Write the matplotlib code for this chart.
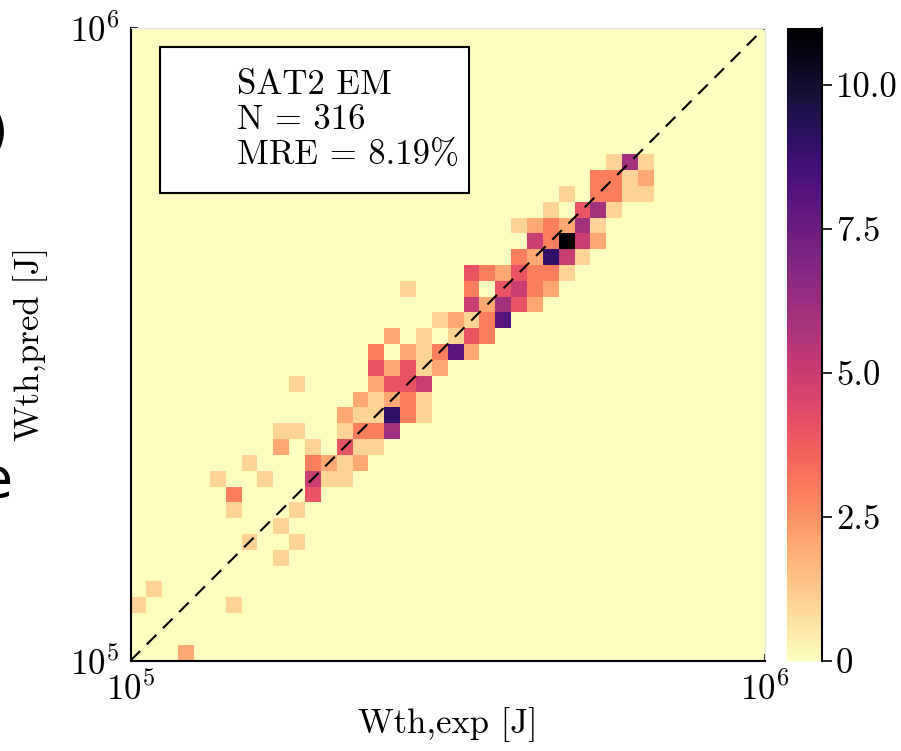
import numpy as np
import matplotlib
matplotlib.use("Agg")
import matplotlib.pyplot as plt
from matplotlib.ticker import NullLocator
from matplotlib.patches import Rectangle

plt.rcParams.update({
    "font.family": "serif",
    "font.serif": ["cmr10"],
    "mathtext.fontset": "cm",
    "axes.formatter.use_mathtext": True,
})

# ---- data: 2D histogram counts (40 log-spaced bins per axis, 1e5..1e6) ----
n_bins = 40
exp_bin = [30, 31, 32,
           29, 30, 31, 32,
           27, 29, 30, 31, 32,
           26, 28, 29, 30,
           24, 25, 26, 27, 28, 29,
           25, 26, 27, 28, 29,
           24, 25, 26, 27, 28,
           21, 22, 23, 24, 25, 26, 27,
           17, 21, 23, 24, 25, 26,
           21, 22, 23, 24, 25,
           19, 20, 21, 22, 23,
           16, 18, 20, 21, 22,
           15, 17, 18, 19, 20, 21,
           15, 16, 17, 18, 19,
           10, 15, 16, 17, 18,
           14, 15, 16, 17, 18,
           13, 14, 15, 16, 17, 18,
           9, 10, 13, 14, 15, 16,
           9, 11, 13, 14, 15,
           7, 11, 12, 13, 14,
           5, 8, 11, 12, 13,
           6, 11,
           6, 10,
           9,
           7, 10,
           9,
           1,
           0, 6,
           3]
pred_bin = [31, 31, 31,
            30, 30, 30, 30,
            29, 29, 29, 29, 29,
            28, 28, 28, 28,
            27, 27, 27, 27, 27, 27,
            26, 26, 26, 26, 26,
            25, 25, 25, 25, 25,
            24, 24, 24, 24, 24, 24, 24,
            23, 23, 23, 23, 23, 23,
            22, 22, 22, 22, 22,
            21, 21, 21, 21, 21,
            20, 20, 20, 20, 20,
            19, 19, 19, 19, 19, 19,
            18, 18, 18, 18, 18,
            17, 17, 17, 17, 17,
            16, 16, 16, 16, 16,
            15, 15, 15, 15, 15, 15,
            14, 14, 14, 14, 14, 14,
            13, 13, 13, 13, 13,
            12, 12, 12, 12, 12,
            11, 11, 11, 11, 11,
            10, 10,
            9, 9,
            8,
            7, 7,
            6,
            4,
            3, 3,
            0]
count = [1, 6, 1,
         3, 3, 1, 2,
         1, 3, 3, 1, 1,
         1, 4, 6, 1,
         1, 2, 3, 2, 6, 1,
         5, 3, 11, 5, 2,
         3, 2, 9, 5, 1,
         4, 3, 2, 4, 3, 3, 1,
         1, 3, 4, 5, 3, 2,
         5, 2, 6, 4, 2,
         1, 2, 1, 3, 8,
         2, 1, 1, 4, 3,
         3, 2, 1, 3, 8, 2,
         4, 2, 4, 1, 2,
         1, 2, 4, 4, 5,
         2, 1, 2, 3, 1,
         2, 1, 1, 9, 3, 1,
         1, 1, 1, 3, 3, 6,
         2, 1, 4, 1, 1,
         1, 3, 2, 1, 2,
         1, 1, 5, 1, 1,
         3, 4,
         1, 1,
         1,
         1, 1,
         1,
         1,
         1, 1,
         2]

box_lines = ["SAT2 EM", "N = 316", "MRE = 8.19%"]
cbar_ticks = [0, 2.5, 5.0, 7.5, 10.0]
cbar_ticklabels = ["0", "2.5", "5.0", "7.5", "10.0"]

H = np.zeros((n_bins, n_bins))
for c, r, v in zip(exp_bin, pred_bin, count):
    H[r, c] += v
edges = np.logspace(5, 6, n_bins + 1)

W, Hpx = 901, 751
fig = plt.figure(figsize=(W / 100, Hpx / 100), dpi=100)
L, R, T, B = 130.5, 764.8, 27.6, 660.6
ax = fig.add_axes([L / W, 1 - B / Hpx, (R - L) / W, (B - T) / Hpx])

mesh = ax.pcolormesh(edges, edges, H, cmap="magma_r", vmin=0, vmax=11,
                     shading="flat", edgecolors="none")
ax.set_xscale("log")
ax.set_yscale("log")
ax.set_xlim(1e5, 1e6)
ax.set_ylim(1e5, 1e6)
ax.plot([1e5, 1e6], [1e5, 1e6], color="black", lw=1.5, dashes=(6.5, 4.5))

ax.set_xticks([1e5, 1e6])
ax.set_yticks([1e5, 1e6])
ax.xaxis.set_minor_locator(NullLocator())
ax.yaxis.set_minor_locator(NullLocator())
ax.tick_params(direction="in", length=5, width=1.2, labelsize=25, pad=8)
for s in ["left", "bottom"]:
    ax.spines[s].set_linewidth(1.5)
    ax.spines[s].set_color("black")
for s in ["top", "right"]:
    ax.spines[s].set_linewidth(0.8)
    ax.spines[s].set_color("#e4e4e4")

ax.set_xlabel("Wth,exp [J]", fontsize=25, labelpad=0)
ax.set_ylabel("Wth,pred [J]", fontsize=25, labelpad=16)

# annotation box
bx0, bx1 = (160 - L) / (R - L), (469 - L) / (R - L)
by1, by0 = 1 - (47 - T) / (B - T), 1 - (193 - T) / (B - T)
ax.add_patch(Rectangle((bx0, by0), bx1 - bx0, by1 - by0, transform=ax.transAxes,
                       facecolor="white", edgecolor="black", lw=1.5, zorder=5))
tx = (237 - L) / (R - L)
for k, line in enumerate(box_lines):
    ty = 1 - (85 + 35 * k - T) / (B - T)
    ax.text(tx, ty, line, transform=ax.transAxes, fontsize=25,
            ha="left", va="center", zorder=6)

# colorbar
cax = fig.add_axes([787 / W, 1 - B / Hpx, 35 / W, (B - T) / Hpx])
cb = fig.colorbar(mesh, cax=cax, ticks=cbar_ticks)
cb.ax.set_yticklabels(cbar_ticklabels)
cb.outline.set_visible(False)
cb.ax.tick_params(direction="out", length=7, width=1.2, labelsize=25, pad=3)
cax.plot([1, 1], [0, 1], transform=cax.transAxes, color="black", lw=1.5,
         clip_on=False)

# clipped fragments of a neighbouring panel's text at the left edge
fig.text(8 / W, 1 - 133 / Hpx, ")", fontsize=40, family="DejaVu Sans",
         ha="right", va="center")
fig.text(13 / W, 1 - 482 / Hpx, "e", fontsize=40, family="DejaVu Sans",
         ha="right", va="center")

fig.savefig("out.png", dpi=100)
